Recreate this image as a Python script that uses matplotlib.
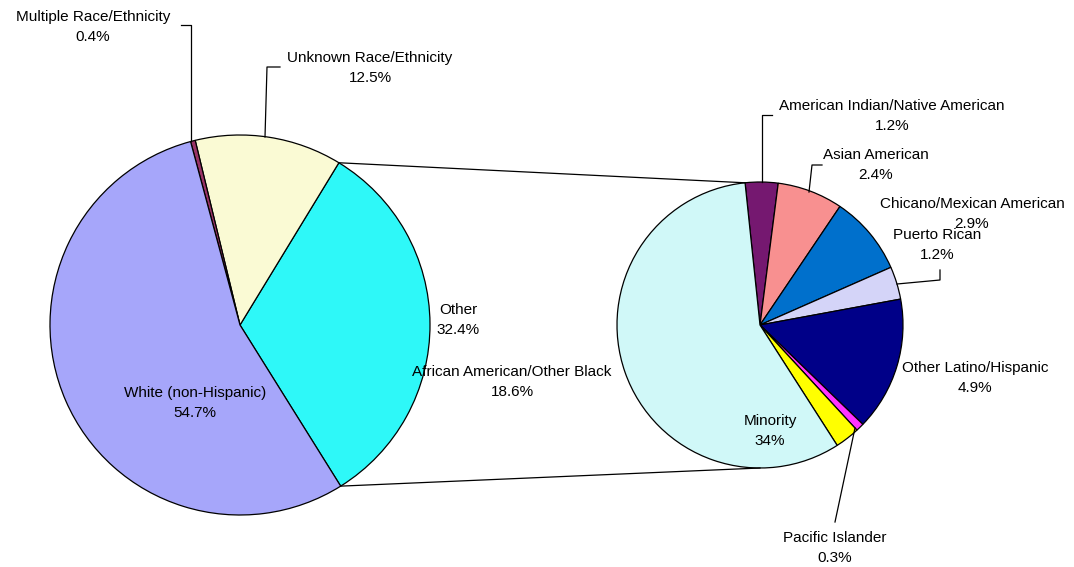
import numpy as np
import matplotlib
matplotlib.use("Agg")
import matplotlib.pyplot as plt

plt.rcParams['font.family'] = ['Liberation Sans', 'DejaVu Sans']

# left pie (whole population)
main_names = ["Other", "Unknown Race/Ethnicity", "Multiple Race/Ethnicity", "White (non-Hispanic)"]
main_values = [32.4, 12.5, 0.4, 54.7]
main_colors = ["#2EF8F8", "#FAFAD4", "#993366", "#A6A6FA"]

# right pie (breakdown of "Other")
sub_names = ["American Indian/Native American", "Asian American", "Chicano/Mexican American",
             "Puerto Rican", "Other Latino/Hispanic", "Pacific Islander", "", "African American/Other Black"]
sub_values = [1.2, 2.4, 2.9, 1.2, 4.9, 0.3, 0.9, 18.6]
sub_colors = ["#751870", "#F89090", "#0070CC", "#D4D4F8", "#000088", "#FF33FF", "#FFFF00", "#D0F8F8"]

H = 567
fig = plt.figure(figsize=(10.74, 5.67), dpi=100)
ax = fig.add_axes([0, 0, 1, 1])

# pie geometry in pixel coords (y measured from top)
c1 = (240, 325); r1 = 190
c2 = (760, 325); r2 = 143
start1 = -58
start2 = 96

wp = dict(edgecolor="black", linewidth=0.9)
ax.pie(main_values, colors=main_colors, center=(c1[0], H - c1[1]), radius=r1,
       startangle=start1, counterclock=True, wedgeprops=wp)
ax.pie(sub_values, colors=sub_colors, center=(c2[0], H - c2[1]), radius=r2,
       startangle=start2, counterclock=False, wedgeprops=wp)

# connector lines between the two pies
a_top = np.deg2rad(start1 + 360 * main_values[0] / 100)
a_bot = np.deg2rad(start1)
p1 = (c1[0] + r1 * np.cos(a_top), H - c1[1] + r1 * np.sin(a_top))
p2 = (c1[0] + r1 * np.cos(a_bot), H - c1[1] + r1 * np.sin(a_bot))
q1 = (c2[0] + r2 * np.cos(np.deg2rad(start2)), H - c2[1] + r2 * np.sin(np.deg2rad(start2)))
q2 = (c2[0], H - c2[1] - r2)
ax.plot([p1[0], q1[0]], [p1[1], q1[1]], color="black", lw=0.9)
ax.plot([p2[0], q2[0]], [p2[1], q2[1]], color="black", lw=0.9)

FS = 11
LS = 1.6


def label(x, y, name, val):
    ax.text(x, H - y, f"{name}\n{val}%", ha="center", va="center", fontsize=FS,
            linespacing=LS, color="black")


def leader(xs, ys):
    ax.plot(xs, [H - y for y in ys], color="black", lw=0.9)


label(93, 27, main_names[2], main_values[2])
leader([181, 191, 191], [25, 25, 141])
label(370, 68, main_names[1], main_values[1])
leader([280, 267, 265], [67, 67, 137])
label(458, 320, main_names[0], main_values[0])
label(195, 403, main_names[3], main_values[3])

label(512, 382, sub_names[7], sub_values[7])
label(892, 116, sub_names[0], sub_values[0])
leader([772, 762, 762], [115, 115, 182])
label(876, 165, sub_names[1], sub_values[1])
leader([822, 812, 809], [165, 165, 192])
label(972, 214, sub_names[2], sub_values[2])
label(937, 245, sub_names[3], sub_values[3])
leader([940, 940, 897], [270, 280, 284])
label(975, 378, sub_names[4], sub_values[4])
label(835, 548, sub_names[5], sub_values[5])
leader([835, 855], [522, 428])
ax.text(770, H - 431, "Minority\n34%", ha="center", va="center", fontsize=FS, linespacing=LS)

ax.set_xlim(0, 1074)
ax.set_ylim(0, H)
ax.set_aspect("equal")
ax.axis("off")
fig.savefig("out.png", dpi=100, facecolor="white")
